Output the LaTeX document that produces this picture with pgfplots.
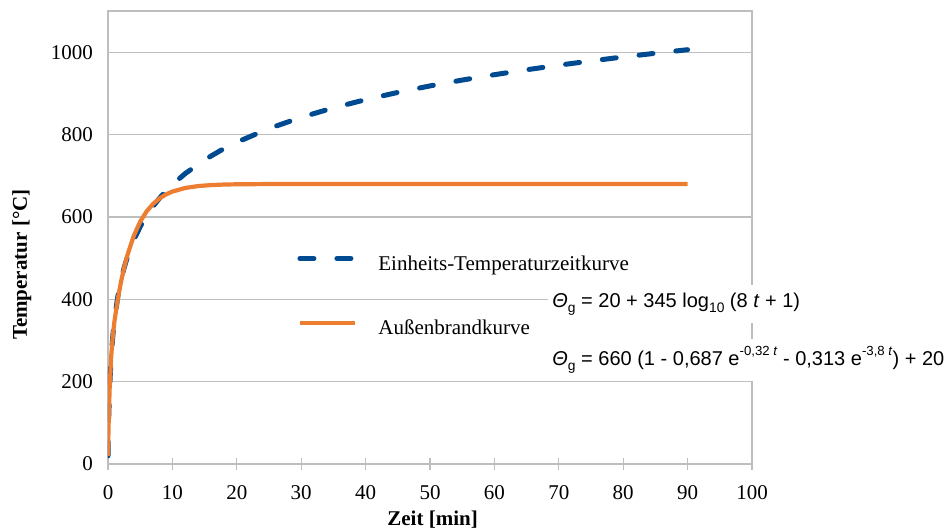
\documentclass[border=0pt]{standalone}
\usepackage{fontspec}
\setmainfont{Liberation Serif}
\newfontfamily\arial{Liberation Sans}
\usepackage{pgfplots}
\pgfplotsset{compat=1.18}
\definecolor{etkblue}{RGB}{0,74,145}
\definecolor{abkorange}{RGB}{237,125,49}
\definecolor{axgray}{RGB}{190,190,190}
\newcommand{\sups}[1]{\raisebox{0.95ex}{\fontsize{6.6}{7}\selectfont #1}}
\newcommand{\subs}[1]{\raisebox{-0.45ex}{\fontsize{6.9}{7}\selectfont #1}}
\begin{document}
\begin{tikzpicture}
\path[use as bounding box] (-54pt,-33pt) rectangle (419.5pt,232pt);
\begin{axis}[
  at={(0pt,0pt)}, anchor=south west,
  scale only axis, width=322pt, height=226.5pt,
  xmin=0, xmax=100, ymin=0, ymax=1100,
  xtick={0,10,...,100}, ytick={0,200,...,1000},
  xtick pos=bottom,
  axis line style={axgray, line width=0.8pt},
  ymajorgrids, grid style={axgray, line width=0.6pt},
  major tick length=6pt,
  xtick align=center,
  x tick style={axgray, line width=0.6pt},
  y tick style={draw=none},
  tick label style={font=\fontsize{10.5}{12}\selectfont},
  /pgf/number format/assume math mode=true,
  /pgf/number format/1000 sep={},
  xticklabel style={yshift=-4pt},
  yticklabel style={xshift=-4pt},
  xlabel={Zeit [min]}, ylabel={Temperatur [°C]},
  label style={font=\fontsize{10.5}{12}\selectfont\bfseries},
  xlabel style={at={(axis description cs:0.504,-0.122)}, anchor=center},
  ylabel style={at={(axis description cs:-0.134,0.44)}, anchor=center},
  legend style={draw=none, fill=none, at={(axis cs:29.35,404)}, anchor=west,
    inner sep=0pt, row sep=22pt, font=\fontsize{10.5}{12}\selectfont,
    nodes={inner sep=0pt, text height=7.5pt, text depth=2.5pt},
    /tikz/every odd column/.append style={column sep=10.5pt}},
  legend cell align=left,
  legend image code/.code={\draw[#1] (0pt,3.5pt) -- (27.5pt,3.5pt);},
]
\addplot[color=etkblue, line width=2.5pt, line cap=round, line join=round, dash pattern=on 7pt off 11.5pt] coordinates {
(0,20)(0.05,70.4)(0.1,108.1)(0.25,184.6)(0.5,261.2)(0.75,311.6)(1,349.2)(1.5,404.3)(2,444.5)(2.5,476.2)(3,502.3)(4,543.9)(5,576.4)(6,603.1)(7,625.8)(8,645.5)(9,662.8)(10,678.4)(12,705.4)(15,738.6)(17.5,761.5)(20,781.3)(25,814.6)(30,841.8)(35,864.8)(40,884.7)(45,902.3)(50,918.1)(55,932.3)(60,945.3)(65,957.3)(70,968.4)(75,978.7)(80,988.4)(85,997.4)(90,1006.0)
};
\addlegendentry{Einheits-Temperaturzeitkurve}
\addplot[color=abkorange, line width=2.1pt, line join=round] coordinates {
(0,20)(0.05,62.9)(0.1,99.5)(0.25,181.6)(0.5,262.7)(0.75,311.4)(1,346.2)(1.5,398.7)(2,440.8)(2.5,476.3)(3,506.4)(4,553.9)(5,588.5)(6,613.5)(7,631.7)(8,645.0)(9,654.6)(10,661.5)(12,670.3)(14,674.9)(16,677.3)(18,678.6)(20,679.2)(25,679.8)(30,680)(90,680)
};
\addlegendentry{Außenbrandkurve}
\end{axis}
\node[fill=white, inner xsep=2pt, inner ysep=4pt, anchor=west, font=\arial\fontsize{10}{12}\selectfont] at (220pt,80pt) {{\itshape Θ}\subs{g} = 20 + 345 log\subs{10} (8 \textit{t} + 1)};
\node[fill=white, inner xsep=2pt, inner ysep=4pt, anchor=west, font=\arial\fontsize{10}{12}\selectfont] at (220pt,52pt) {{\itshape Θ}\subs{g} = 660 (1 - 0,687 e\sups{-0,32 \textit{t}} - 0,313 e\sups{-3,8 \textit{t}}) + 20};
\end{tikzpicture}
\end{document}
